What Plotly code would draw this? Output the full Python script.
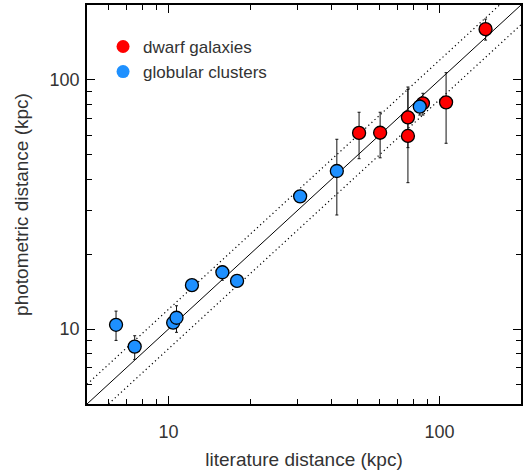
import math
import plotly.graph_objects as go

# ---- data ----
lit_dw = [50.5, 60.4, 76.5, 76.5, 86.9, 105.8, 148.0]
phot_dw = [61.3, 61.4, 70.8, 59.6, 80.6, 81.3, 160.0]
phot_dw_hi = [74.2, 74.2, 93.7, 91.6, 88.4, 107.0, 175.6]
phot_dw_lo = [48.3, 48.7, 53.5, 38.7, 72.3, 55.7, 144.6]

lit_gc = [6.4, 7.5, 10.4, 10.7, 12.2, 15.8, 17.9, 30.6, 41.8, 84.6]
phot_gc = [10.4, 8.5, 10.6, 11.1, 15.0, 16.9, 15.6, 34.1, 43.1, 78.2]
phot_gc_hi = [11.8, 9.4, 10.6, 12.4, 15.0, 17.9, 15.6, 35.8, 57.8, 83.2]
phot_gc_lo = [9.0, 7.55, 10.6, 9.7, 15.0, 15.7, 15.6, 32.3, 28.7, 72.3]

axis_min, axis_max = 5, 200
band_ratio = 1.2
tick_vals = [10, 100]
tick_text = ["10", "100"]
minor_vals = [6, 7, 8, 9, 20, 30, 40, 50, 60, 70, 80, 90]

RED = "#ff0000"
BLUE = "#1e90ff"
TXT = "#333333"
FONT = "Liberation Sans, Arial, sans-serif"

fig = go.Figure()

line_x = [axis_min, axis_max]
fig.add_trace(go.Scatter(x=line_x, y=line_x, mode="lines",
                         line=dict(color="black", width=1), showlegend=False, hoverinfo="skip"))
fig.add_trace(go.Scatter(x=line_x, y=[v * band_ratio for v in line_x], mode="lines",
                         line=dict(color="black", width=1.2, dash="1.2px,3px"), showlegend=False, hoverinfo="skip"))
fig.add_trace(go.Scatter(x=line_x, y=[v / band_ratio for v in line_x], mode="lines",
                         line=dict(color="black", width=1.2, dash="1.2px,3px"), showlegend=False, hoverinfo="skip"))


def err(vals, hi, lo):
    return [h - v for v, h in zip(vals, hi)], [v - l for v, l in zip(vals, lo)]


up, dn = err(phot_dw, phot_dw_hi, phot_dw_lo)
fig.add_trace(go.Scatter(
    x=lit_dw, y=phot_dw, mode="markers", showlegend=False,
    marker=dict(color=RED, size=13, line=dict(color="black", width=1.3)),
    error_y=dict(type="data", symmetric=False, array=up, arrayminus=dn,
                 color="#111111", thickness=1, width=1.5)))

up, dn = err(phot_gc, phot_gc_hi, phot_gc_lo)
fig.add_trace(go.Scatter(
    x=lit_gc, y=phot_gc, mode="markers", showlegend=False,
    marker=dict(color=BLUE, size=13, line=dict(color="black", width=1.3)),
    error_y=dict(type="data", symmetric=False, array=up, arrayminus=dn,
                 color="#111111", thickness=1, width=1.5)))

# legend entries (no outline, as in the reference)
fig.add_trace(go.Scatter(x=[None], y=[None], mode="markers", name="dwarf galaxies",
                         marker=dict(color=RED, size=13)))
fig.add_trace(go.Scatter(x=[None], y=[None], mode="markers", name="globular clusters",
                         marker=dict(color=BLUE, size=13)))

axis_common = dict(
    type="log",
    range=[math.log10(axis_min), math.log10(axis_max)],
    showgrid=False, zeroline=False,
    showline=True, linecolor="black", linewidth=1.5, mirror="allticks",
    ticks="inside", ticklen=8, tickwidth=1, tickcolor="black",
    tickvals=tick_vals, ticktext=tick_text,
    tickfont=dict(family=FONT, size=18, color=TXT),
    minor=dict(ticks="inside", ticklen=5, tickwidth=1, tickcolor="black", tickvals=minor_vals),
)

fig.update_layout(
    width=524, height=470,
    margin=dict(l=87, r=1, t=5, b=66),
    paper_bgcolor="white", plot_bgcolor="white",
    font=dict(family=FONT, color=TXT),
    xaxis=dict(**axis_common, ticklabelstandoff=11,
               title=dict(text="literature distance (kpc)", font=dict(family=FONT, size=19, color=TXT), standoff=13)),
    yaxis=dict(**axis_common, ticklabelstandoff=2,
               title=dict(text="photometric distance (kpc)", font=dict(family=FONT, size=19, color=TXT), standoff=16)),
    legend=dict(x=0.037, y=0.94, xanchor="left", yanchor="top",
                bgcolor="rgba(0,0,0,0)", font=dict(family=FONT, size=17, color=TXT),
                itemwidth=30, tracegroupgap=0),
    showlegend=True,
)

fig.write_html("out.html")
